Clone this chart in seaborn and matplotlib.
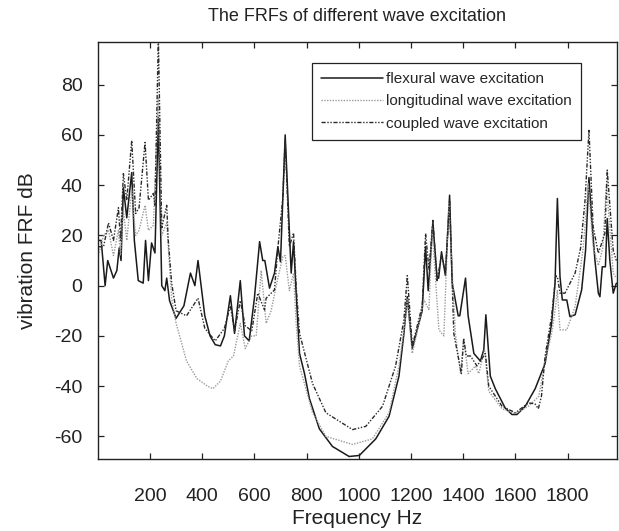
import matplotlib
matplotlib.use("Agg")
import matplotlib.pyplot as plt
import seaborn as sns
import pandas as pd

# ---- data ----
flex_f = [2, 13, 28, 38, 60, 73, 82, 89, 98, 111, 130, 140, 155, 174, 183, 194, 206, 219, 232, 245,
          257, 264, 275, 300, 330, 355, 372, 384, 410, 430, 450, 470, 485, 508, 524, 546, 562, 580, 600, 620,
          632, 640, 658, 677, 690, 700, 718, 741, 750, 760, 773, 792, 811, 849, 899, 963, 1002, 1065, 1116, 1154,
          1173, 1186, 1205, 1243, 1256, 1266, 1284, 1300, 1306, 1317, 1332, 1348, 1358, 1381, 1387, 1409, 1419, 1441, 1466, 1479,
          1487, 1504, 1523, 1561, 1587, 1606, 1638, 1676, 1714, 1739, 1752, 1761, 1771, 1780, 1797, 1809, 1829, 1854, 1869, 1882,
          1892, 1905, 1918, 1924, 1933, 1945, 1952, 1962, 1975, 1987]
flex_db = [18, 18, 0, 10, 3, 6, 15, 10, 39, 27, 45, 18, 2, 1, 18, 2, 17, 13, 67, 0,
           -2, 3, -6, -13, -8, 5, 0, 10, -12, -20, -23.5, -24, -20, -4, -19, 2, -20, -22, -5, 17.5,
           10, 10, -1, 5, 15.5, 9.5, 60, 5, 17.5, -3, -27, -35, -45, -57, -64, -68, -67.6, -61, -52, -36,
           -19, -4.4, -25, -10, 15.5, -2, 25, 3, 3, 13.5, 4, 36, 1, -12, -12, 3, -12, -27, -30, -25.5,
           -11.6, -36, -41, -48.7, -51.3, -51.3, -48, -41, -31, -15, 1, 34.7, 3.6, -5.7, -5.7, -12.3, -11.6, -1.7, 14, 43,
           27, 10, -3, -4.4, 7.5, 7.5, 26.7, 10, -3, 1]

long_f = [2, 22, 41, 60, 79, 87, 98, 111, 130, 145, 158, 181, 194, 213, 232, 245, 264, 283, 300, 340,
          380, 420, 441, 470, 500, 520, 546, 565, 590, 607, 626, 645, 664, 690, 709, 718, 734, 750, 760, 773,
          823, 874, 976, 1052, 1116, 1154, 1180, 1186, 1205, 1250, 1269, 1281, 1307, 1326, 1345, 1370, 1390, 1402, 1419, 1447,
          1460, 1482, 1498, 1549, 1600, 1650, 1690, 1714, 1739, 1752, 1761, 1771, 1797, 1829, 1860, 1879, 1898, 1918, 1935, 1949,
          1975, 1987]
long_db = [12, 20, 22, 12, 22, 12, 30, 18, 38, 20, 22, 32, 22, 24, 75, 20, 25, -5, -15, -30,
           -37, -40, -41, -38, -30, -28, -15, -25, -20, -20, 6, -15, -10, 3, 11.5, 12, -2, 5, -15, -32,
           -50.6, -60, -63.2, -61, -50.6, -32, -12, -5, -27, -5.7, -9.7, 23.4, -17.6, -20, 32.7, -19, -35, -21.5, -35, -32,
           -35, -25.5, -42, -49, -51, -48, -44, -30, -19, -10, -2, -17.6, -17.6, -8.3, 15, 40.6, 15.5, 8, 15, 40.6,
           5, 3]

coup_f = [2, 22, 41, 60, 79, 87, 98, 111, 130, 145, 158, 181, 194, 213, 219, 232, 245, 264, 270, 283,
          300, 340, 384, 410, 450, 485, 508, 524, 546, 565, 590, 613, 639, 645, 677, 690, 709, 718, 734, 750,
          760, 773, 823, 874, 976, 1027, 1091, 1141, 1173, 1186, 1205, 1243, 1256, 1269, 1284, 1300, 1317, 1332, 1348, 1364,
          1393, 1402, 1412, 1428, 1453, 1485, 1498, 1549, 1600, 1650, 1675, 1688, 1700, 1714, 1739, 1755, 1762, 1771, 1790, 1829,
          1850, 1867, 1882, 1898, 1918, 1943, 1952, 1975, 1987]
coup_db = [15.5, 15.5, 25, 18, 31, 18, 44.6, 34, 57.8, 28.7, 31, 57, 34, 36.7, 32, 99, 23, 32, 18, 1,
           -10, -12, -5, -17, -22, -17, -8, -18, -6, -16, -18, -3, -9.7, -5, -1.7, 15, 35, 58, 15.5, 21,
           0, -19, -39, -50.6, -57.3, -56, -48, -32, -13.6, 4, -24, -8, 20.8, 6.5, 26, 2, 12, 5, 34, -19,
           -35, -21, -28, -28, -32, -27, -40, -48, -50.6, -46.7, -47, -49, -44, -28, -12, 4, 3, -3, -3, 5,
           15, 34, 61.8, 23.4, 12.9, 20.8, 46, 14, 10]

x_ticks = [200, 400, 600, 800, 1000, 1200, 1400, 1600, 1800]
y_ticks = [-60, -40, -20, 0, 20, 40, 60, 80]

labels = ["flexural wave excitation", "longitudinal wave excitation", "coupled wave excitation"]

# ---- style ----
sns.set_style("ticks")
plt.rcParams['font.family'] = ['Liberation Sans', 'DejaVu Sans']
plt.rcParams['axes.unicode_minus'] = False

fig = plt.figure(figsize=(6.19, 5.31), dpi=100)
ax = fig.add_axes([0.158, 0.1356, 0.839, 0.7854])

df_flex = pd.DataFrame({"f": flex_f, "db": flex_db})
df_long = pd.DataFrame({"f": long_f, "db": long_db})
df_coup = pd.DataFrame({"f": coup_f, "db": coup_db})

sns.lineplot(data=df_flex, x="f", y="db", ax=ax, color="#1a1a1a", linewidth=1.1,
             sort=False, estimator=None, label=labels[0])
sns.lineplot(data=df_long, x="f", y="db", ax=ax, color="#9a9a9a", linewidth=1.0,
             linestyle=(0, (1, 1)), sort=False, estimator=None, label=labels[1])
sns.lineplot(data=df_coup, x="f", y="db", ax=ax, color="#2a2a2a", linewidth=1.0,
             linestyle=(0, (3, 1.2, 1, 1.2, 1, 1.2)), sort=False, estimator=None, label=labels[2])

ax.set_xlim(0, 1990)
ax.set_ylim(-69, 97)
ax.set_xticks(x_ticks)
ax.set_yticks(y_ticks)
ax.tick_params(direction="in", length=4, width=0.9, top=True, right=True,
               labelsize=14, colors="#222222")
ax.tick_params(axis="x", pad=21)
ax.tick_params(axis="y", pad=11)
for s in ax.spines.values():
    s.set_color("#222222")
    s.set_linewidth(1.0)

ax.set_xlabel("Frequency Hz", fontsize=15, color="#222222", labelpad=3)
ax.set_ylabel("vibration FRF dB", fontsize=15, color="#222222", labelpad=12)
ax.set_title("The FRFs of different wave excitation", fontsize=13, color="#222222", pad=15)

leg = ax.legend(loc="upper right", bbox_to_anchor=(0.931, 0.95), borderaxespad=0,
                fontsize=11, handlelength=4.0, handletextpad=0.25, labelspacing=0.55,
                fancybox=False, framealpha=1, edgecolor="#222222", borderpad=0.6)
leg.get_frame().set_linewidth(0.9)

fig.savefig("out.png", dpi=100)
